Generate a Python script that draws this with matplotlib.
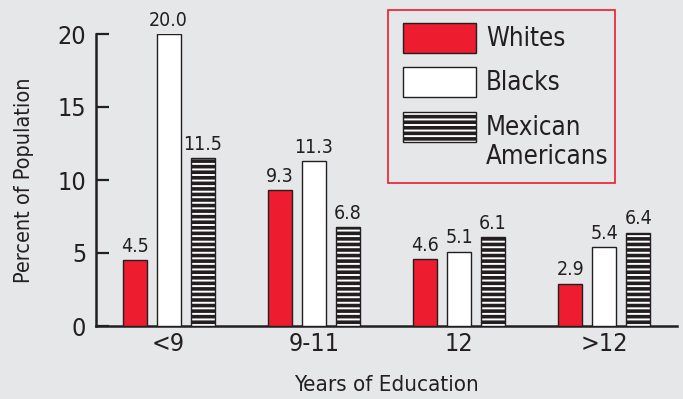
import matplotlib
matplotlib.use("Agg")
import matplotlib.pyplot as plt
from matplotlib.patches import Rectangle
import numpy as np

categories = ["<9", "9-11", "12", ">12"]
whites = [4.5, 9.3, 4.6, 2.9]
blacks = [20.0, 11.3, 5.1, 5.4]
mexican = [11.5, 6.8, 6.1, 6.4]
series_names = ["Whites", "Blacks", "Mexican\nAmericans"]
yticks = [0, 5, 10, 15, 20]

BG = "#e6e7e9"
RED = "#ed1c2e"
DARK = "#231f20"

plt.rcParams['font.family'] = ['DejaVu Sans']
plt.rcParams['font.stretch'] = 'condensed'
plt.rcParams['hatch.linewidth'] = 1.4

W, H = 683, 399
fig = plt.figure(figsize=(W/100, H/100), dpi=100, facecolor=BG)
ax = fig.add_axes([96/W, 73/H, 581/W, 292/H])
ax.set_facecolor(BG)

x = np.arange(len(categories))
w = 0.165
off = 0.234

b1 = ax.bar(x - off, whites, w, color=RED, edgecolor=DARK, linewidth=1.0, zorder=3)
b2 = ax.bar(x, blacks, w, color="white", edgecolor=DARK, linewidth=1.0, zorder=3)
b3 = ax.bar(x + off, mexican, w, color=DARK, edgecolor="white", hatch="---", linewidth=0, zorder=3)
ax.bar(x + off, mexican, w, fill=False, edgecolor=DARK, linewidth=1.0, zorder=4)

for bars, vals in ((b1, whites), (b2, blacks), (b3, mexican)):
    ax.bar_label(bars, labels=[f"{v:.1f}" for v in vals], padding=3, fontsize=14,
                 color=DARK, clip_on=False)

ax.set_xlim(-0.5, 3.5)
ax.set_ylim(0, 20)
ax.set_yticks(yticks)
ax.set_yticklabels([str(t) for t in yticks], fontsize=18, color=DARK)
ax.set_xticks(x)
ax.set_xticklabels(categories, fontsize=18, color=DARK)
ax.tick_params(axis='y', direction='in', length=9, width=1.6, color=DARK, pad=7)
ax.tick_params(axis='x', length=0, pad=4)

for s in ('top', 'right'):
    ax.spines[s].set_visible(False)
for s in ('left', 'bottom'):
    ax.spines[s].set_color(DARK)
    ax.spines[s].set_linewidth(1.8)

ax.set_ylabel("Percent of Population", fontsize=15.5, color=DARK, labelpad=17)
ax.set_xlabel("Years of Education", fontsize=16, color=DARK, labelpad=14)

# legend box (figure pixel layout)
tf = fig.transFigure
def fx(px): return px / W
def fy(py): return 1 - py / H

fig.add_artist(Rectangle((fx(388), fy(183)), fx(615) - fx(388), fy(10) - fy(183),
                         transform=tf, facecolor=BG, edgecolor=RED, linewidth=1.2))
handle_styles = [dict(facecolor=RED, edgecolor=DARK),
                 dict(facecolor="white", edgecolor=DARK),
                 dict(facecolor=DARK, edgecolor="white", hatch="---")]
handle_tops = [23, 67, 112]
text_centers = [39, 83, 128]
for i, (name, st, top, tc) in enumerate(zip(series_names, handle_styles, handle_tops, text_centers)):
    r = Rectangle((fx(403), fy(top + 30)), fx(476) - fx(403), fy(top) - fy(top + 30),
                  transform=tf, linewidth=1.0 if i < 2 else 0, **st)
    fig.add_artist(r)
    if i == 2:
        fig.add_artist(Rectangle((fx(403), fy(top + 30)), fx(476) - fx(403), fy(top) - fy(top + 30),
                                 transform=tf, fill=False, edgecolor=DARK, linewidth=1.0))
    lines = name.split("\n")
    for j, ln in enumerate(lines):
        fig.text(fx(486), fy(tc + 29 * j), ln, fontsize=18.5, color=DARK,
                 ha="left", va="center")

fig.savefig("out.png", dpi=100, facecolor=BG)
